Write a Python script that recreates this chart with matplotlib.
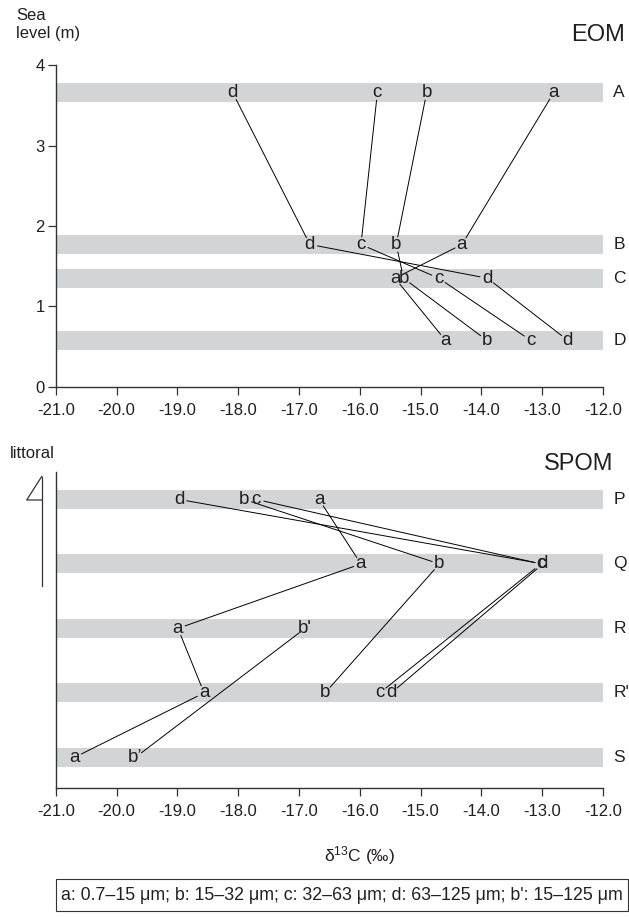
import matplotlib
matplotlib.use("Agg")
import matplotlib.pyplot as plt
import numpy as np
from matplotlib.lines import Line2D
from matplotlib.patches import Rectangle

plt.rcParams['font.family'] = ['Liberation Sans', 'DejaVu Sans']
plt.rcParams['mathtext.fontset'] = 'custom'
plt.rcParams['mathtext.rm'] = 'Liberation Sans'
plt.rcParams['mathtext.it'] = 'Liberation Sans:italic'

# ---------------- data ----------------
x_ticks = [-21.0, -20.0, -19.0, -18.0, -17.0, -16.0, -15.0, -14.0, -13.0, -12.0]
eom_yticks = [0, 1, 2, 3, 4]

eom_rows = ['A', 'B', 'C', 'D']
eom_levels = [3.66, 1.77, 1.35, 0.577]        # sea level (m) of sampling rows
eom_a = [-12.81, -14.32, -15.42, -14.59]
eom_b = [-14.90, -15.40, -15.28, -13.91]
eom_c = [-15.71, -15.98, -14.70, -13.19]
eom_d = [-18.09, -16.82, -13.90, -12.58]

spom_rows = ['P', 'Q', 'R', "R'", 'S']
spom_levels = [4, 3, 2, 1, 0]
spom_a = [-16.67, -15.98, -18.99, -18.56, -20.69]
spom_a_rows = [0, 1, 2, 3, 4]
spom_b = [-17.90, -14.69, -16.57]
spom_b_rows = [0, 1, 3]
spom_c = [-17.70, -13.02, -15.67]
spom_c_rows = [0, 1, 3]
spom_d = [-18.97, -12.99, -15.48]
spom_d_rows = [0, 1, 3]
spom_bp = [-16.90, -19.69]
spom_bp_rows = [2, 4]
spom_bp_labels = ["b'", "b\u2019"]

legend_text = ("a: 0.7\u201315 \u03bcm; b: 15\u201332 \u03bcm; c: 32\u201363 \u03bcm; "
               "d: 63\u2013125 \u03bcm; b': 15\u2013125 \u03bcm")

# ---------------- layout ----------------
W, H = 629, 917
fig = plt.figure(figsize=(W / 100, H / 100), dpi=100)


def fx(px):
    return px / W


def fy(py):
    return 1 - py / H


ink = '#231f20'
band_col = '#d3d4d6'
LETTER_FS = 13.5
TICK_FS = 12

x0, x1 = 55.7, 603.0
ax1 = fig.add_axes([fx(x0), fy(386.7), (x1 - x0) / W, (386.7 - 65.3) / H])
ax2 = fig.add_axes([fx(x0), fy(787.7), (x1 - x0) / W, (787.7 - 471.7) / H])

for ax in (ax1, ax2):
    ax.set_xlim(-21, -12)
    for s in ('top', 'right'):
        ax.spines[s].set_visible(False)
    for s in ('left', 'bottom'):
        ax.spines[s].set_linewidth(1.0)
        ax.spines[s].set_color('#333333')
    ax.set_xticks(x_ticks)
    ax.set_xticklabels([f"{v:.1f}" for v in x_ticks])
    ax.tick_params(axis='x', direction='out', length=5.5, width=0.9,
                   pad=6.5, labelsize=TICK_FS, colors='#333333', labelcolor=ink)
    ax.patch.set_visible(False)

ax1.set_ylim(0, 4)
ax1.set_yticks(eom_yticks)
ax1.tick_params(axis='y', direction='out', length=5.5, width=0.9,
                pad=2.5, labelsize=TICK_FS, colors='#333333', labelcolor=ink)

ax2.set_ylim(-0.47, 4.43)
ax2.set_yticks([])


def draw_bands(ax, levels, names, half):
    for lev, nm in zip(levels, names):
        ax.axhspan(lev - half, lev + half, color=band_col, lw=0, zorder=0)
        ax.annotate(nm, xy=(1, lev), xycoords=('axes fraction', 'data'),
                    xytext=(7.5, 0), textcoords='offset points',
                    ha='left', va='center', fontsize=12.5, color=ink)


def draw_series(ax, xs, ys, labels):
    for i in range(len(xs) - 1):
        ax.annotate('', xy=(xs[i + 1], ys[i + 1]), xytext=(xs[i], ys[i]),
                    arrowprops=dict(arrowstyle='-', color='black', lw=0.7,
                                    shrinkA=5.5, shrinkB=5.5), zorder=2)
    for x, y, lb in zip(xs, ys, labels):
        ax.text(x, y, lb, ha='center', va='center', fontsize=LETTER_FS,
                color=ink, zorder=3)


# EOM panel
draw_bands(ax1, eom_levels, eom_rows, 0.116)
for vals, lb in ((eom_a, 'a'), (eom_b, 'b'), (eom_c, 'c'), (eom_d, 'd')):
    draw_series(ax1, vals, eom_levels, [lb] * len(vals))

# SPOM panel
draw_bands(ax2, spom_levels, spom_rows, 0.147)
for vals, rows, lbs in ((spom_a, spom_a_rows, ['a'] * 5),
                        (spom_b, spom_b_rows, ['b'] * 3),
                        (spom_c, spom_c_rows, ['c'] * 3),
                        (spom_d, spom_d_rows, ['d'] * 3),
                        (spom_bp, spom_bp_rows, spom_bp_labels)):
    draw_series(ax2, vals, [spom_levels[r] for r in rows], lbs)

# titles / labels
fig.text(fx(16), fy(8), 'Sea\nlevel (m)', ha='left', va='top', fontsize=12,
         linespacing=1.25, color=ink)
fig.text(fx(625), fy(35), 'EOM', ha='right', va='center', fontsize=17, color=ink)
fig.text(fx(10), fy(458), 'littoral', ha='left', va='baseline', fontsize=12, color=ink)
fig.text(fx(613), fy(464), 'SPOM', ha='right', va='center', fontsize=17, color=ink)

# littoral symbol
sym = dict(color='#333333', lw=0.9, transform=fig.transFigure)
fig.add_artist(Line2D([fx(41.7), fx(41.7)], [fy(476.5), fy(586)], **sym))
fig.add_artist(Line2D([fx(41.7), fx(26.7), fx(41.7)], [fy(476.5), fy(500), fy(500)], **sym))

# x label
fig.text(fx(360), fy(856), r'$\mathregular{\delta^{13}}$C (‰)', ha='center',
         va='center', fontsize=12.5, color=ink)

# legend box
fig.add_artist(Rectangle((fx(55.5), fy(911)), (627.5 - 55.5) / W, (911 - 879) / H,
                         transform=fig.transFigure, fill=False,
                         edgecolor='#333333', lw=0.8))
lt = fig.text(fx(342), fy(895), legend_text, ha='center', va='center',
              fontsize=11, color=ink)
fig.canvas.draw()
w = lt.get_window_extent().width
lt.set_fontsize(11 * 558 / w)

fig.savefig('out.png', dpi=100)
